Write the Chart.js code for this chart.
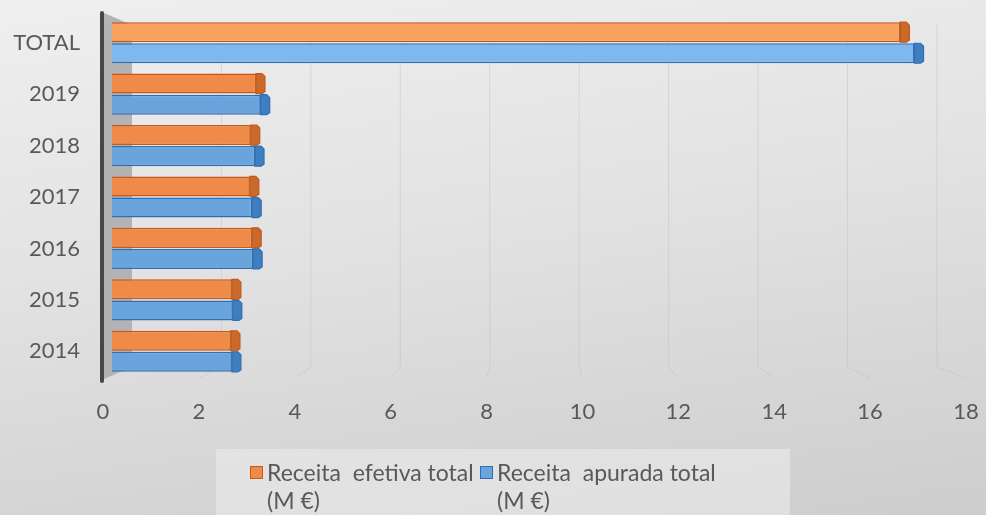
<!DOCTYPE html>
<html lang="pt">
<head>
  <meta charset="UTF-8">
  <title>Receita efetiva e apurada</title>
  <script src="https://cdn.jsdelivr.net/npm/chart.js"></script>
  <style>
    body {
      margin: 0;
      font-family: 'Lato', sans-serif;
    }
    .wrap {
      position: relative;
      width: 986px;
      height: 515px;
      overflow: hidden;
      background: linear-gradient(172deg, #efefef 0%, #e2e2e2 45%, #cdcdcd 100%);
    }
    canvas { position: absolute; left: 0; top: 0; }
    .legend {
      position: absolute;
      left: 216px;
      top: 449px;
      width: 574px;
      height: 80px;
      background: rgba(236, 236, 236, 0.55);
    }
    .item {
      position: absolute;
      top: 9px;
      font-size: 23px;
      line-height: 28px;
      color: #595959;
      white-space: pre;
    }
    .item .box {
      position: absolute;
      left: -17px;
      top: 8px;
      width: 11px;
      height: 11px;
      border: 1.5px solid;
    }
  </style>
</head>
<body>
  <div class="wrap">
    <canvas id="chart" width="986" height="515"></canvas>
    <div class="legend" id="legend"></div>
  </div>

  <script>
    const categories = ['TOTAL', '2019', '2018', '2017', '2016', '2015', '2014'];
    const receitaEfetiva = [16.7, 3.05, 2.94, 2.92, 2.97, 2.54, 2.52];
    const receitaApurada = [17.0, 3.15, 3.03, 2.97, 2.99, 2.56, 2.54];
    const xTicks = [0, 2, 4, 6, 8, 10, 12, 14, 16, 18];

    const seriesNames = ['Receita  efetiva total\n(M €)', 'Receita  apurada total\n(M €)'];

    // face / border / end-cap colours; the TOTAL row is drawn a bit lighter
    const styles = [
      { face: '#EF8A48', light: '#F7A25E', border: '#C55A16', cap: '#C9692C' },
      { face: '#69A4DC', light: '#7DB9EE', border: '#2E6FB3', cap: '#3F7EC0' }
    ];

    // end face of each bar and the side wall / back grid of the 3D box
    const depthPlugin = {
      id: 'depth',
      beforeDatasetsDraw(chart) {
        const { ctx, chartArea, scales } = chart;
        const front = scales.xl, back = scales.xb;
        const top = chartArea.top, bottom = chartArea.bottom;
        ctx.save();
        // back wall grid lines folding onto the floor
        ctx.strokeStyle = 'rgba(195,195,195,0.5)';
        ctx.lineWidth = 1;
        xTicks.slice(1).forEach(v => {
          const bx = back.getPixelForValue(v);
          const fx = front.getPixelForValue(v);
          ctx.beginPath();
          ctx.moveTo(bx, top + 8);
          ctx.lineTo(bx, bottom - 10);
          ctx.lineTo(fx, bottom + 1);
          ctx.stroke();
        });
        // side wall
        const x0 = front.getPixelForValue(0) + 1;
        const x1 = back.getPixelForValue(0);
        ctx.fillStyle = '#b3b3b3';
        ctx.beginPath();
        ctx.moveTo(x0, top - 4);
        ctx.lineTo(x1, top + 8);
        ctx.lineTo(x1, bottom - 10);
        ctx.lineTo(x0, bottom + 2);
        ctx.closePath();
        ctx.fill();
        // vertical axis post
        ctx.strokeStyle = '#474747';
        ctx.lineWidth = 4;
        ctx.lineCap = 'round';
        ctx.beginPath();
        ctx.moveTo(x0 - 2, top - 4);
        ctx.lineTo(x0 - 2, bottom + 4);
        ctx.stroke();
        ctx.restore();
      },
      afterDatasetsDraw(chart) {
        const ctx = chart.ctx;
        ctx.save();
        chart.data.datasets.forEach((ds, di) => {
          const st = styles[di];
          chart.getDatasetMeta(di).data.forEach(bar => {
            const { x, y, height } = bar.getProps(['x', 'y', 'height'], true);
            const t = y - height / 2, b = y + height / 2;
            ctx.beginPath();
            ctx.moveTo(x, t);
            ctx.lineTo(x + 6, t);
            ctx.lineTo(x + 9, t + 3);
            ctx.lineTo(x + 9, b - 2);
            ctx.lineTo(x + 6, b);
            ctx.lineTo(x, b);
            ctx.closePath();
            ctx.fillStyle = st.cap;
            ctx.fill();
            ctx.strokeStyle = st.border;
            ctx.lineWidth = 1.2;
            ctx.stroke();
          });
        });
        ctx.restore();
      }
    };

    const chart = new Chart(document.getElementById('chart'), {
      type: 'bar',
      data: {
        labels: categories,
        datasets: [receitaEfetiva, receitaApurada].map((values, i) => ({
          label: seriesNames[i].replace('\n', ' '),
          data: values,
          xAxisID: 'x',
          backgroundColor: ctx => ctx.dataIndex === 0 ? styles[i].light : styles[i].face,
          borderColor: styles[i].border,
          borderWidth: 1.5,
          categoryPercentage: 0.82,
          barPercentage: 0.95
        }))
      },
      options: {
        indexAxis: 'y',
        responsive: false,
        animation: false,
        layout: { padding: { top: 17, right: 20 } },
        plugins: {
          legend: { display: false },
          tooltip: { enabled: false }
        },
        scales: {
          y: {
            grid: { display: false, drawTicks: false },
            border: { display: false },
            ticks: {
              color: '#595959',
              font: { family: 'Lato', size: 22 },
              padding: 23
            },
            afterFit: s => {
              s.width = 103;
              s.paddingTop = 0;
              s.paddingBottom = 0;
            }
          },
          // value axis for the bars (front face of the box)
          x: {
            display: false,
            min: -0.19,
            max: 18.09
          },
          // back wall of the box
          xb: {
            display: false,
            min: -0.648,
            max: 18.65
          },
          // labelled floor edge
          xl: {
            position: 'bottom',
            min: 0,
            max: 18,
            grid: { display: false, drawTicks: false },
            border: { display: false },
            afterBuildTicks: s => { s.ticks = xTicks.map(v => ({ value: v })); },
            ticks: {
              color: '#595959',
              font: { family: 'Lato', size: 22 },
              padding: 22
            },
            afterFit: s => {
              s.height = 138;
              s.paddingLeft = 0;
              s.paddingRight = 0;
            }
          }
        }
      },
      plugins: [depthPlugin]
    });

    // legend with the two-line series names
    const legend = document.getElementById('legend');
    const itemLeft = [51, 281];
    seriesNames.forEach((name, i) => {
      const item = document.createElement('div');
      item.className = 'item';
      item.style.left = itemLeft[i] + 'px';
      item.textContent = name;
      const box = document.createElement('span');
      box.className = 'box';
      box.style.background = styles[i].face;
      box.style.borderColor = styles[i].border;
      item.prepend(box);
      legend.appendChild(item);
    });
  </script>
</body>
</html>
